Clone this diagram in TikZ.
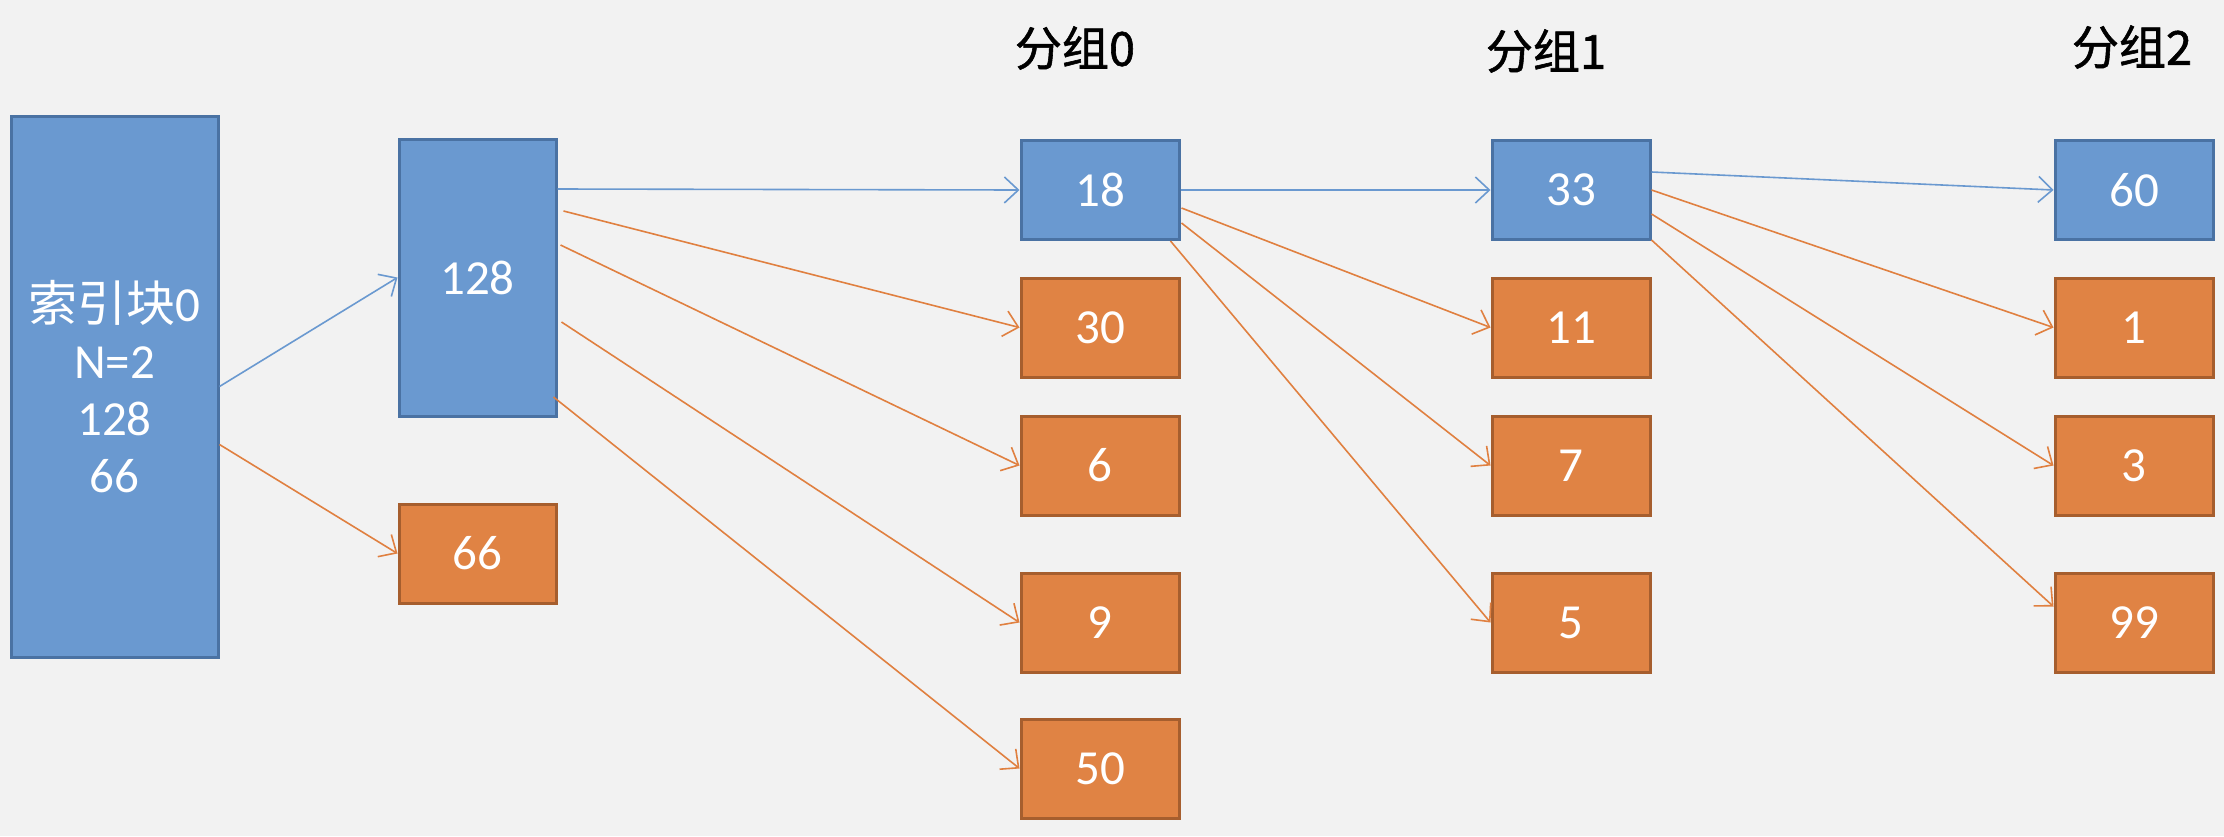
\documentclass[tikz,border=0pt]{standalone}
\usepackage{fontspec}
\setmainfont{Carlito}
\newfontfamily\cjk{Noto Sans CJK SC}
\newfontfamily\cjkh[FakeBold=1.2]{Noto Sans CJK SC}
\usetikzlibrary{arrows.meta}
\definecolor{bg}{HTML}{F2F2F2}
\definecolor{bfill}{HTML}{6A99D0}
\definecolor{bdraw}{HTML}{4A72A3}
\definecolor{ofill}{HTML}{E08344}
\definecolor{odraw}{HTML}{A65E2E}
\definecolor{barrow}{HTML}{6A99D0}
\definecolor{oarrow}{HTML}{E08040}
\begin{document}
\begin{tikzpicture}[x=1pt,y=-1pt,
  boxbase/.style={rectangle, line width=3pt, inner sep=0pt, text=white,
    font=\fontsize{49}{54}\selectfont},
  bbox/.style={boxbase, draw=bdraw, fill=bfill},
  obox/.style={boxbase, draw=odraw, fill=ofill, minimum width=158pt, minimum height=99pt},
  sbox/.style={bbox, minimum width=158pt, minimum height=99pt},
  hdr/.style={font=\cjkh\fontsize{47}{52}\selectfont, text=black, inner sep=0pt},
  barr/.style={draw=barrow, line width=1.6pt, -{Straight Barb[length=14pt,width=26pt,line width=1.6pt]}},
  oarr/.style={draw=oarrow, line width=1.6pt, -{Straight Barb[length=14pt,width=26pt,line width=1.6pt]}}
]
\fill[bg] (0,0) rectangle (2224,836);
\useasboundingbox (0,0) rectangle (2224,836);

% headers
\node[hdr] (h0) at (1075,48) {分组0};
\node[hdr] (h1) at (1546,51) {分组1};
\node[hdr] (h2) at (2132,47) {分组2};

% index block
\node[bbox, minimum width=207pt, minimum height=541pt, align=center,
  font=\fontsize{49}{57}\selectfont] (idx) at (114.5,386.5)
  {{\cjk 索引块}0\\N=2\\128\\66};
\node[bbox, minimum width=157pt, minimum height=277pt] (b128) at (477.5,277.5) {128};
\node[obox, minimum width=157pt] (b66) at (477.5,553.5) {66};

% column 0
\node[sbox] (c18) at (1100,190) {18};
\node[obox] (c30) at (1100,327.5) {30};
\node[obox] (c6) at (1100,465.5) {6};
\node[obox] (c9) at (1100,622.5) {9};
\node[obox] (c50) at (1100,768.5) {50};

% column 1
\node[sbox] (c33) at (1571,190) {33};
\node[obox] (c11) at (1571,327.5) {11};
\node[obox] (c7) at (1571,465.5) {7};
\node[obox] (c5) at (1571,622.5) {5};

% column 2
\node[sbox] (c60) at (2134,190) {60};
\node[obox] (c1) at (2134,327.5) {1};
\node[obox] (c3) at (2134,465.5) {3};
\node[obox] (c99) at (2134,622.5) {99};

% index arrows
\draw[barr] (idx.east) -- (b128.west);
\draw[oarr] ([yshift=-58pt]idx.east) -- (b66.west);

% 128 arrows
\draw[barr] ([yshift=88.5pt]b128.east) -- (c18.west);
\draw[oarr] ([xshift=6pt,yshift=66.5pt]b128.east) -- (c30.west);
\draw[oarr] ([xshift=3pt,yshift=32.5pt]b128.east) -- (c6.west);
\draw[oarr] ([xshift=4pt,yshift=-44.5pt]b128.east) -- (c9.west);
\draw[oarr] ([xshift=-4pt,yshift=-119.5pt]b128.east) -- (c50.west);

% 18 arrows
\draw[barr] (c18.east) -- (c33.west);
\draw[oarr] ([xshift=1pt,yshift=-18pt]c18.east) -- (c11.west);
\draw[oarr] ([xshift=1pt,yshift=-33pt]c18.east) -- (c7.west);
\draw[oarr] ([xshift=-10pt]c18.south east) -- (c5.west);

% 33 arrows
\draw[barr] ([yshift=18pt]c33.east) -- (c60.west);
\draw[oarr] (c33.east) -- (c1.west);
\draw[oarr] ([yshift=-24pt]c33.east) -- (c3.west);
\draw[oarr] ([yshift=-50pt]c33.east) -- ([yshift=16pt]c99.west);
\end{tikzpicture}
\end{document}
